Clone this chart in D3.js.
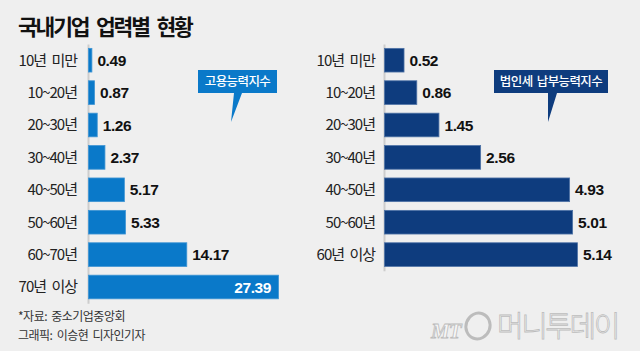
<!DOCTYPE html>
<html>
<head>
<meta charset="utf-8">
<script src="https://cdn.jsdelivr.net/npm/d3@7"></script>
<style>
  html, body { margin: 0; padding: 0; background: #efefef; }
  svg { display: block; }
  .cat text { font-family: "Noto Sans CJK KR", sans-serif; font-size: 15px; fill: #222; letter-spacing: -1px; word-spacing: 3px; }
  .val { font-family: "Liberation Sans", Arial, sans-serif; font-weight: bold; font-size: 15.5px; fill: #111; letter-spacing: -0.4px; }
</style>
</head>
<body>
<svg id="chart" width="640" height="351"></svg>
<script>
// 고용능력지수 (employment capacity index)
const empCategories = ['10년 미만', '10~20년', '20~30년', '30~40년', '40~50년', '50~60년', '60~70년', '70년 이상']
const empValues = [0.49, 0.87, 1.26, 2.37, 5.17, 5.33, 14.17, 27.39]
// 법인세 납부능력지수 (corporate tax payment capacity index)
const taxCategories = ['10년 미만', '10~20년', '20~30년', '30~40년', '40~50년', '50~60년', '60년 이상']
const taxValues = [0.52, 0.86, 1.45, 2.56, 4.93, 5.01, 5.14]

const title = '국내기업 업력별 현황'
const sourceNote = '*자료: 중소기업중앙회'
const creditNote = '그래픽: 이승현 디자인기자'

const svg = d3.select('#chart')
const step = 32.4
const plotTop = 44

svg.append('text')
  .attr('x', 18).attr('y', 35)
  .attr('font-family', '"Noto Sans CJK KR", sans-serif')
  .attr('font-weight', 'bold')
  .attr('font-size', 21.5)
  .attr('letter-spacing', -2.2)
  .attr('word-spacing', 5)
  .attr('fill', '#111')
  .text(title)

// draws one bar panel straight onto svg
function panel({ cats, vals, x0, x1, color, edge, pad, insideFrom, callout }) {
  const x = d3.scaleLinear().domain([0, d3.max(vals)]).range([x0, x1])
  const y = d3.scaleBand()
    .domain(cats)
    .range([plotTop, plotTop + step * cats.length])
    .paddingInner(0.27)
    .paddingOuter(0.135)

  const g = svg.append('g')

  const axis = g.append('g')
    .attr('class', 'cat')
    .attr('transform', `translate(${x0},0)`)
    .call(d3.axisLeft(y).tickSize(0).tickSizeOuter(0).tickPadding(pad))
  axis.select('.domain').attr('stroke', '#cdcdcd').attr('stroke-width', 2)
  axis.selectAll('text').attr('dy', '0.36em')

  g.selectAll('rect.bar')
    .data(vals)
    .join('rect')
    .attr('class', 'bar')
    .attr('x', x0 + 0.5)
    .attr('y', (d, i) => y(cats[i]))
    .attr('width', (d) => x(d) - x0)
    .attr('height', y.bandwidth())
    .attr('fill', color)
    .attr('stroke', edge)
    .attr('stroke-width', 0.8)

  g.selectAll('text.val')
    .data(vals)
    .join('text')
    .attr('class', 'val')
    .attr('y', (d, i) => y(cats[i]) + y.bandwidth() / 2)
    .attr('dy', '0.36em')
    .each(function (d) {
      const inside = d >= insideFrom
      d3.select(this)
        .attr('x', inside ? x(d) - 7 : x(d) + 6)
        .attr('text-anchor', inside ? 'end' : 'start')
        .style('fill', inside ? '#fff' : null)
    })
    .text((d) => d.toFixed(2))

  // speech-bubble label
  const c = callout
  g.append('path')
    .attr('d', `M${c.x},${c.y} H${c.x + c.w} V${c.y + c.h} H${c.tail[1]} L${c.tip[0]},${c.tip[1]} L${c.tail[0]},${c.y + c.h} H${c.x} Z`)
    .attr('fill', color)
  g.append('text')
    .attr('x', c.x + c.w / 2)
    .attr('y', c.y + c.h / 2)
    .attr('dy', '0.36em')
    .attr('text-anchor', 'middle')
    .attr('font-family', '"Noto Sans CJK KR", sans-serif')
    .attr('font-weight', 500)
    .attr('font-size', 12.5)
    .attr('letter-spacing', -0.6)
    .attr('word-spacing', 2)
    .attr('fill', '#fff')
    .text(c.text)
}

panel({
  cats: empCategories, vals: empValues,
  x0: 88, x1: 278, color: '#0a79c9', edge: '#3f95d4', pad: 11, insideFrom: 20,
  callout: { text: '고용능력지수', x: 198, y: 70, w: 79, h: 23, tail: [234, 242], tip: [231, 122] }
})

panel({
  cats: taxCategories, vals: taxValues,
  x0: 384, x1: 577, color: '#0e3c7e', edge: '#4f73a6', pad: 9, insideFrom: Infinity,
  callout: { text: '법인세 납부능력지수', x: 494, y: 70, w: 114, h: 23, tail: [548, 557], tip: [548, 122] }
})

// footer notes
svg.selectAll('text.note')
  .data([sourceNote, creditNote])
  .join('text')
  .attr('class', 'note')
  .attr('x', 18)
  .attr('y', (d, i) => 321 + i * 19)
  .attr('font-family', '"Noto Sans CJK KR", sans-serif')
  .attr('font-size', 12)
  .attr('letter-spacing', -0.5)
  .attr('word-spacing', 2)
  .attr('fill', '#333')
  .text((d) => d)

// watermark
const wm = svg.append('g')
  .attr('fill', '#f6f6f6')
  .attr('stroke', '#bcbcbc')
  .attr('stroke-width', 0.8)
wm.append('text')
  .attr('x', 431).attr('y', 338)
  .attr('font-family', '"Liberation Serif", serif')
  .attr('font-style', 'italic')
  .attr('font-weight', 'bold')
  .attr('font-size', 21)
  .attr('letter-spacing', -1)
  .text('MT')
wm.append('ellipse')
  .attr('cx', 478).attr('cy', 326)
  .attr('rx', 12).attr('ry', 13)
  .attr('fill', 'none')
  .attr('stroke-width', 3)
  .attr('transform', 'rotate(20,478,326)')
wm.append('text')
  .attr('x', 497).attr('y', 337)
  .attr('font-family', '"Noto Sans CJK KR", sans-serif')
  .attr('font-weight', 300)
  .attr('font-size', 29)
  .attr('letter-spacing', -2.5)
  .text('머니투데이')
</script>
</body>
</html>
